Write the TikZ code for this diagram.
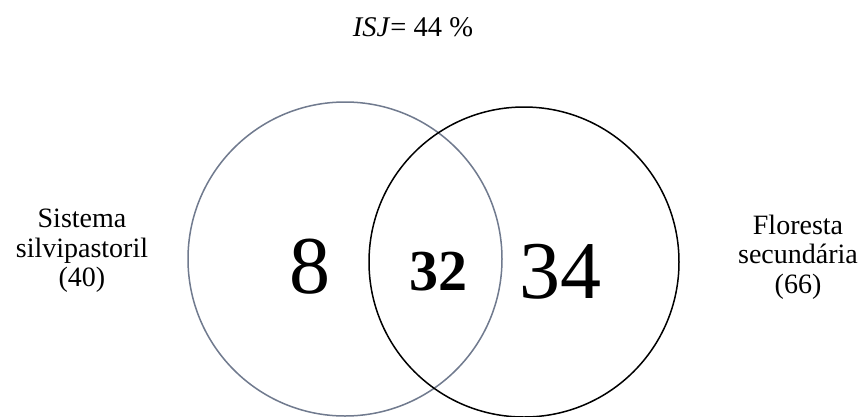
\documentclass[tikz,border=0pt]{standalone}
\usepackage{fontspec}
\setmainfont{Liberation Serif}
\definecolor{leftcirc}{RGB}{112,122,142}
\begin{document}
\begin{tikzpicture}[x=1pt,y=-1pt,
  setcircle/.style={circle,draw,line width=1.5pt,inner sep=0pt},
  sidelabel/.style={align=center,font=\fontsize{28}{29.5}\selectfont},
  bignum/.style={font=\fontsize{82}{90}\selectfont},
  midnum/.style={font=\bfseries\fontsize{58}{64}\selectfont}]
\useasboundingbox[fill=white] (0,0) rectangle (863,416);
\node[setcircle,draw=leftcirc,minimum size=314pt] (A) at (345,259) {};
\node[setcircle,draw=black,minimum size=310pt] (B) at (524,262) {};
\node[font=\fontsize{28.5}{30}\selectfont] (title) at (413,27) {\textit{ISJ}= 44 \%};
\node[sidelabel] (lab1) at (82,251) {Sistema\\silvipastoril\\(40)};
\node[sidelabel] (lab2) at (798,257) {Floresta\\secundária\\(66)};
\node[bignum] (n8) at (310,267) {8};
\node[midnum] (n32) at (438,272) {32};
\node[bignum] (n34) at (560,272) {34};
\end{tikzpicture}
\end{document}
